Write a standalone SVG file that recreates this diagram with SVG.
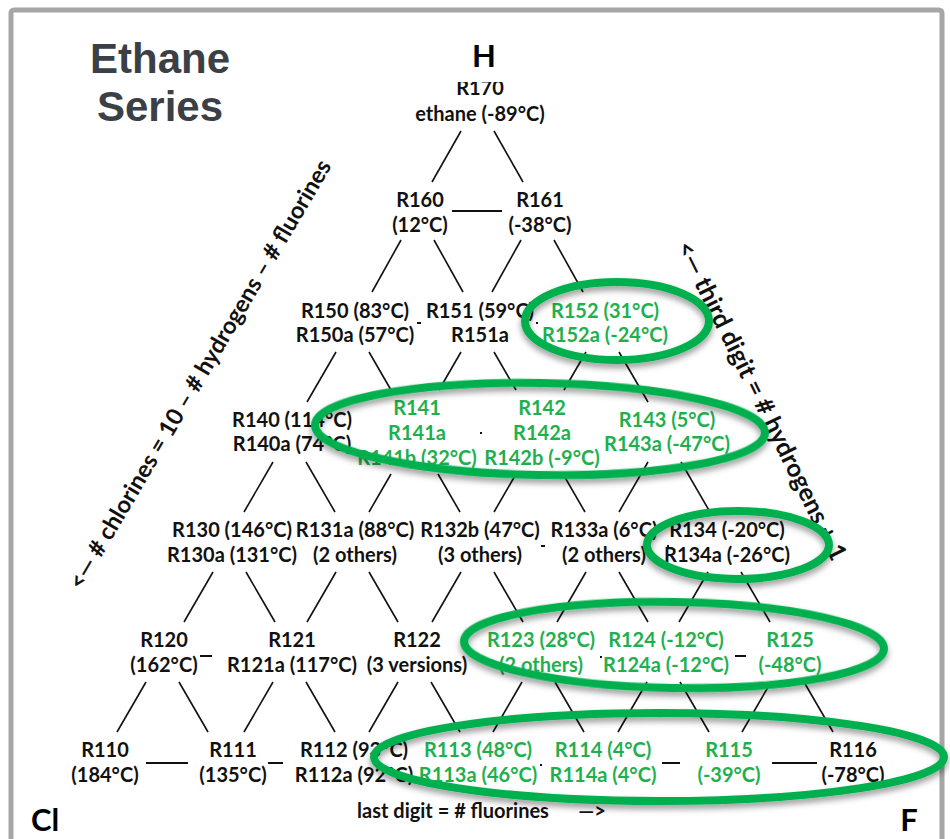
<svg xmlns="http://www.w3.org/2000/svg" width="950" height="839" viewBox="0 0 950 839">
<defs>
<style>
.n{font-family:Lato,"Open Sans","Liberation Sans",sans-serif;font-weight:700;font-size:20px;text-anchor:middle;fill:#111}
.g{fill:#1fb04e}
.big{font-family:Lato,"Liberation Sans",sans-serif;font-weight:700;font-size:31px;text-anchor:middle;fill:#000}
.title{font-family:"Liberation Sans",Arial,sans-serif;font-weight:700;font-size:42px;text-anchor:middle;fill:#3b4046}
.rot{font-family:Lato,"Liberation Sans",sans-serif;font-weight:700;text-anchor:middle;dominant-baseline:central;fill:#111}
.c line{stroke:#111;stroke-width:1.6}
.h line{stroke:#111;stroke-width:2}
.ring{fill:none;stroke:#00b050;stroke-width:8;filter:url(#sh)}
</style>
<filter id="sh" x="-10%" y="-30%" width="120%" height="170%">
<feDropShadow dx="0" dy="4" stdDeviation="3" flood-color="#000" flood-opacity="0.4"/>
</filter>
<clipPath id="clipR170"><rect x="400" y="82" width="160" height="60"/></clipPath>
</defs>
<rect x="0" y="0" width="950" height="839" fill="#fff"/>
<rect x="11" y="10" width="931" height="870" rx="3" fill="#fff" stroke="#a6a6a6" stroke-width="5"/>

<g id="title">
<text class="title" x="160" y="73">Ethane</text>
<text class="title" x="160" y="121">Series</text>
</g>
<g id="labels">
<text class="big" x="484" y="67">H</text>
<text class="big" x="45" y="831" font-size="33">Cl</text>
<text class="big" x="909" y="831">F</text>
<text class="n" x="453" y="818" font-size="22">last digit = # fluorines</text>
<text class="n" x="592" y="818" font-size="22">—&gt;</text>
<text class="rot" font-size="23.5" transform="translate(199,374) rotate(-59.5)">&lt;— # chlorines = 10 – # hydrogens – # fluorines</text>
<text class="rot" font-size="25" transform="translate(763,400) rotate(63.7)">&lt;— third digit = # hydrogens + 1</text>
</g>

<g id="connectors">
<g class="c">
<line x1="461" y1="131" x2="432" y2="182"/><line x1="494" y1="131" x2="523" y2="182"/>
<line x1="401" y1="240" x2="372" y2="292"/><line x1="434" y1="240" x2="463" y2="292"/>
<line x1="521" y1="240" x2="492" y2="292"/><line x1="554" y1="240" x2="583" y2="292"/>
<line x1="336" y1="352" x2="307" y2="402"/><line x1="369" y1="352" x2="391" y2="390"/>
<line x1="461" y1="352" x2="439" y2="390"/><line x1="494" y1="352" x2="516" y2="390"/>
<line x1="586" y1="352" x2="564" y2="390"/><line x1="619" y1="352" x2="648" y2="402"/>
<line x1="273" y1="462" x2="244" y2="512"/><line x1="306" y1="462" x2="335" y2="512"/>
<line x1="391" y1="474" x2="369" y2="512"/><line x1="438" y1="474" x2="460" y2="512"/>
<line x1="516" y1="474" x2="494" y2="512"/><line x1="563" y1="474" x2="585" y2="512"/>
<line x1="648" y1="462" x2="619" y2="512"/><line x1="681" y1="462" x2="710" y2="512"/>
<line x1="213" y1="572" x2="184" y2="622"/><line x1="246" y1="572" x2="275" y2="622"/>
<line x1="336" y1="572" x2="307" y2="622"/><line x1="369" y1="572" x2="398" y2="622"/>
<line x1="461" y1="572" x2="432" y2="622"/><line x1="494" y1="572" x2="523" y2="622"/>
<line x1="586" y1="572" x2="557" y2="622"/><line x1="619" y1="572" x2="648" y2="622"/>
<line x1="708" y1="572" x2="679" y2="622"/><line x1="741" y1="572" x2="770" y2="622"/>
<line x1="146" y1="682" x2="117" y2="732"/><line x1="179" y1="682" x2="208" y2="732"/>
<line x1="273" y1="682" x2="244" y2="732"/><line x1="306" y1="682" x2="335" y2="732"/>
<line x1="398" y1="682" x2="369" y2="732"/><line x1="431" y1="682" x2="460" y2="732"/>
<line x1="522" y1="682" x2="493" y2="732"/><line x1="555" y1="682" x2="584" y2="732"/>
<line x1="647" y1="682" x2="618" y2="732"/><line x1="680" y1="682" x2="709" y2="732"/>
<line x1="771" y1="682" x2="742" y2="732"/><line x1="804" y1="682" x2="833" y2="732"/>
</g>
<g class="h">
<line x1="452" y1="211" x2="502" y2="211"/>
<line x1="417" y1="323" x2="421" y2="323"/><line x1="536" y1="323" x2="538" y2="323"/>
<line x1="480" y1="433" x2="482" y2="433"/>
<line x1="541" y1="546" x2="545" y2="546"/><line x1="667" y1="546" x2="669" y2="546"/>
<line x1="200" y1="656" x2="212" y2="656"/><line x1="470" y1="656" x2="481" y2="656"/>
<line x1="600" y1="657" x2="602" y2="657"/><line x1="735" y1="656" x2="746" y2="656"/>
<line x1="146" y1="763" x2="188" y2="763"/><line x1="268" y1="763" x2="283" y2="763"/>
<line x1="540" y1="765" x2="542" y2="765"/><line x1="662" y1="763" x2="680" y2="763"/>
<line x1="772" y1="763" x2="817" y2="763"/>
</g>
</g>

<g id="R170"><text class="n" x="480" y="95" clip-path="url(#clipR170)">R170</text><text class="n" x="480" y="121">ethane (-89°C)</text></g>
<g id="R160"><text class="n" x="420" y="207">R160</text><text class="n" x="420" y="232">(12°C)</text></g>
<g id="R161"><text class="n" x="540" y="207">R161</text><text class="n" x="540" y="232">(-38°C)</text></g>
<g id="R150"><text class="n" x="355" y="318">R150 (83°C)</text><text class="n" x="355" y="342">R150a (57°C)</text></g>
<g id="R151"><text class="n" x="480" y="318">R151 (59°C)</text><text class="n" x="480" y="342">R151a</text></g>
<g id="R152"><text class="n g" x="605" y="318">R152 (31°C)</text><text class="n g" x="605" y="342">R152a (-24°C)</text></g>
<g id="R140"><text class="n" x="292" y="427">R140 (114°C)</text><text class="n" x="292" y="451">R140a (74°C)</text></g>
<g id="R141"><text class="n g" x="417" y="415">R141</text><text class="n g" x="417" y="440">R141a</text><text class="n g" x="417" y="465">R141b (32°C)</text></g>
<g id="R142"><text class="n g" x="542" y="415">R142</text><text class="n g" x="542" y="440">R142a</text><text class="n g" x="542" y="465">R142b (-9°C)</text></g>
<g id="R143"><text class="n g" x="667" y="427">R143 (5°C)</text><text class="n g" x="667" y="451">R143a (-47°C)</text></g>
<g id="R130"><text class="n" x="232" y="537">R130 (146°C)</text><text class="n" x="232" y="562">R130a (131°C)</text></g>
<g id="R131"><text class="n" x="355" y="537">R131a (88°C)</text><text class="n" x="355" y="562">(2 others)</text></g>
<g id="R132"><text class="n" x="480" y="537">R132b (47°C)</text><text class="n" x="480" y="562">(3 others)</text></g>
<g id="R133"><text class="n" x="604" y="537">R133a (6°C)</text><text class="n" x="604" y="562">(2 others)</text></g>
<g id="R134"><text class="n" x="727" y="537">R134 (-20°C)</text><text class="n" x="727" y="562">R134a (-26°C)</text></g>
<g id="R120"><text class="n" x="164" y="647">R120</text><text class="n" x="164" y="672">(162°C)</text></g>
<g id="R121"><text class="n" x="292" y="647">R121</text><text class="n" x="292" y="672">R121a (117°C)</text></g>
<g id="R122"><text class="n" x="417" y="647">R122</text><text class="n" x="417" y="672">(3 versions)</text></g>
<g id="R123"><text class="n g" x="541" y="647">R123 (28°C)</text><text class="n g" x="541" y="672">(2 others)</text></g>
<g id="R124"><text class="n g" x="666" y="647">R124 (-12°C)</text><text class="n g" x="666" y="672">R124a (-12°C)</text></g>
<g id="R125"><text class="n g" x="790" y="647">R125</text><text class="n g" x="790" y="672">(-48°C)</text></g>
<g id="R110"><text class="n" x="105" y="757">R110</text><text class="n" x="105" y="782">(184°C)</text></g>
<g id="R111"><text class="n" x="233" y="757">R111</text><text class="n" x="233" y="782">(135°C)</text></g>
<g id="R112"><text class="n" x="354" y="757">R112 (93°C)</text><text class="n" x="354" y="782">R112a (92°C)</text></g>
<g id="R113"><text class="n g" x="478" y="757">R113 (48°C)</text><text class="n g" x="478" y="782">R113a (46°C)</text></g>
<g id="R114"><text class="n g" x="603" y="757">R114 (4°C)</text><text class="n g" x="603" y="782">R114a (4°C)</text></g>
<g id="R115"><text class="n g" x="729" y="757">R115</text><text class="n g" x="729" y="782">(-39°C)</text></g>
<g id="R116"><text class="n" x="853" y="757">R116</text><text class="n" x="853" y="782">(-78°C)</text></g>

<g id="highlights">
<ellipse class="ring" cx="617" cy="321" rx="92" ry="39"/>
<ellipse class="ring" cx="540" cy="429" rx="225" ry="46" transform="rotate(1 540 429)"/>
<ellipse class="ring" cx="738" cy="545" rx="91" ry="34"/>
<ellipse class="ring" cx="674" cy="645" rx="210" ry="43" transform="rotate(1 674 645)"/>
<ellipse class="ring" cx="659" cy="757" rx="285" ry="44"/>
</g>
</svg>
